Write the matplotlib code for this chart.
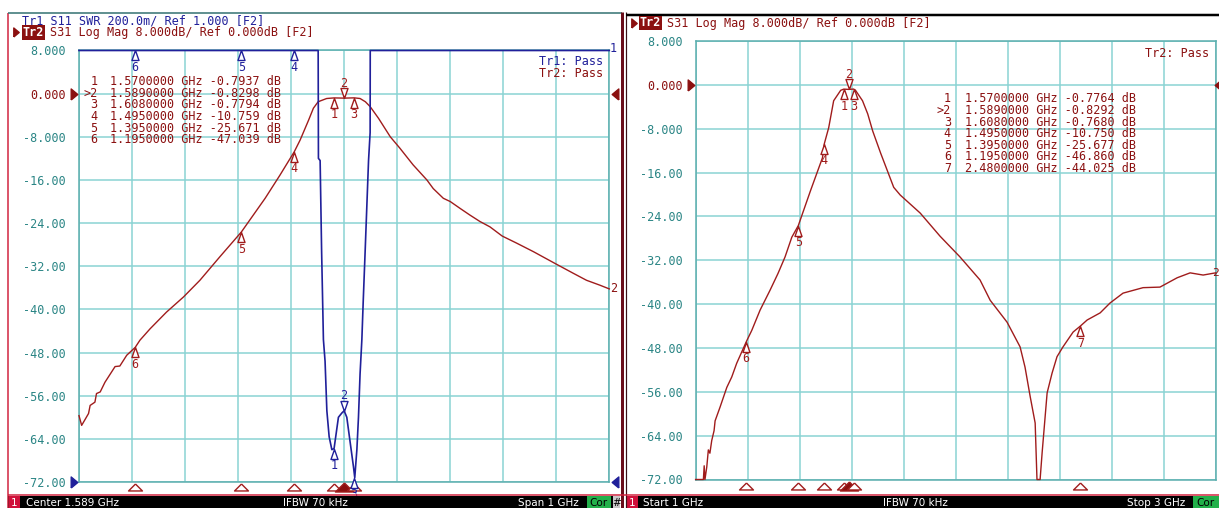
import numpy as np
import matplotlib
matplotlib.use('Agg')
import matplotlib.pyplot as plt
from matplotlib.lines import Line2D
from matplotlib.patches import Rectangle
from matplotlib import transforms

# screen size in pixels (figure is drawn 1:1 at 100 dpi)
W, H = 1219, 508

MONO = 'DejaVu Sans Mono'
BLUE = '#20209a'
RED = '#a01c1c'
DKRED = '#8b1010'
TEAL_TXT = '#2a8585'
GRID = '#8ad3d3'
FRAME = '#5aaeae'

# ---- data ----
ytick_vals = [8, 0, -8, -16, -24, -32, -40, -48, -56, -64, -72]
ytick_txt = ['8.000', '0.000', '-8.000', '-16.00', '-24.00', '-32.00',
             '-40.00', '-48.00', '-56.00', '-64.00', '-72.00']

# left screen: center 1.589 GHz, span 1 GHz
left_start, left_stop = 1.089, 2.089
# Tr2 S31 (dB)
tr2L_f = [1.089, 1.094, 1.107, 1.110, 1.119, 1.122, 1.129, 1.138, 1.157, 1.166,
          1.179, 1.195, 1.204, 1.223, 1.254, 1.286, 1.317, 1.355, 1.395, 1.440,
          1.468, 1.495, 1.506, 1.522, 1.531, 1.540, 1.556, 1.570, 1.589, 1.608,
          1.619, 1.629, 1.638, 1.654, 1.676, 1.694, 1.719, 1.745, 1.757, 1.776,
          1.789, 1.808, 1.826, 1.845, 1.864, 1.887, 1.914, 1.946, 1.987, 2.021,
          2.046, 2.071, 2.089]
tr2L_db = [-59.7, -61.5, -59.3, -57.8, -57.2, -55.6, -55.3, -53.5, -50.6, -50.5,
           -48.5, -47.04, -45.7, -43.6, -40.5, -37.7, -34.6, -30.2, -25.67, -19.4,
           -15.1, -10.76, -8.6, -4.9, -2.7, -1.5, -0.9, -0.79, -0.83, -0.78,
           -0.9, -1.5, -2.4, -4.6, -8.0, -10.1, -13.2, -16.0, -17.6, -19.4,
           -20.0, -21.3, -22.5, -23.7, -24.7, -26.4, -27.7, -29.3, -31.5, -33.3,
           -34.6, -35.5, -36.2]
# Tr1 S11 (SWR), saturated at top of scale outside the passband
tr1_f = [1.089, 1.5400, 1.5405, 1.5437, 1.5465, 1.5499, 1.553, 1.5564, 1.5607,
         1.5658, 1.570, 1.5782, 1.5847, 1.589, 1.594, 1.600, 1.6066, 1.609,
         1.613, 1.616, 1.619, 1.6224, 1.625, 1.6286, 1.635, 1.638, 1.6382, 2.089]
tr1_swr = [3.0, 3.0, 2.50, 2.49, 2.07, 1.66, 1.56, 1.33, 1.21,
           1.15, 1.155, 1.30, 1.32, 1.33, 1.30, 1.19, 1.07, 1.02,
           1.15, 1.30, 1.50, 1.66, 1.84, 2.07, 2.49, 2.62, 3.0, 3.0]

mkL_id = ['1', '2', '3', '4', '5', '6']
mkL_freq = [1.570, 1.589, 1.608, 1.495, 1.395, 1.195]
mkL_db = [-0.7937, -0.8298, -0.7794, -10.759, -25.671, -47.039]
mkL_swr = [1.155, 1.33, 1.02, 3.0, 3.0, 3.0]

# right screen: start 1 GHz, stop 3 GHz
right_start, right_stop = 1.0, 3.0
tr2R_f = [1.000, 1.030, 1.033, 1.036, 1.043, 1.049, 1.055, 1.062, 1.071, 1.075,
          1.094, 1.107, 1.120, 1.139, 1.158, 1.195, 1.216, 1.248, 1.286, 1.317,
          1.344, 1.370, 1.395, 1.442, 1.488, 1.495, 1.512, 1.531, 1.558, 1.570,
          1.589, 1.608, 1.615, 1.642, 1.662, 1.681, 1.712, 1.762, 1.787, 1.864,
          1.940, 2.017, 2.094, 2.133, 2.198, 2.248, 2.267, 2.287, 2.306, 2.313,
          2.325, 2.333, 2.352, 2.371, 2.390, 2.413, 2.452, 2.480, 2.506, 2.556,
          2.594, 2.644, 2.721, 2.786, 2.852, 2.902, 2.952, 3.000]
tr2R_db = [-72, -72, -69.5, -72, -69.7, -66.6, -67.2, -64.9, -63.1, -61.3,
           -58.8, -57.0, -55.2, -53.3, -50.8, -46.86, -44.8, -41.1, -37.5, -34.4,
           -31.4, -27.8, -25.68, -19.3, -13.3, -10.75, -7.8, -2.9, -1.0, -0.78,
           -0.83, -0.77, -1.0, -2.9, -5.3, -8.4, -12.5, -18.7, -20.1, -23.4,
           -27.6, -31.4, -35.6, -39.3, -43.3, -47.8, -51.5, -56.9, -61.7, -72,
           -72, -67.0, -56.2, -52.6, -49.6, -47.8, -45.1, -44.0, -42.9, -41.6,
           -39.8, -38.0, -37.0, -36.9, -35.2, -34.3, -34.7, -34.3]

mkR_id = ['1', '2', '3', '4', '5', '6', '7']
mkR_freq = [1.570, 1.589, 1.608, 1.495, 1.395, 1.195, 2.480]
mkR_db = [-0.7764, -0.8292, -0.7680, -10.750, -25.677, -46.860, -44.025]
active_id = '2'

# marker glyphs: apex sits on the data point
TRI_UP = [(0, 0), (-0.35, -1), (0.35, -1), (0, 0)]
TRI_DN = [(0, 0), (-0.35, 1), (0.35, 1), (0, 0)]
STIM = [(0, 0.5), (-1, -0.5), (1, -0.5), (0, 0.5)]
ARR_R = [(-0.6, -1), (0.6, 0), (-0.6, 1), (-0.6, -1)]
ARR_L = [(0.6, -1), (-0.6, 0), (0.6, 1), (0.6, -1)]


def fx(x):
    return x / W


def fy(y):
    return 1 - y / H


fig = plt.figure(figsize=(W / 100, H / 100), dpi=100)
fig.patch.set_facecolor('white')


def ftext(x, y, s, **kw):
    kw.setdefault('family', MONO)
    kw.setdefault('fontsize', 8.5)
    kw.setdefault('va', 'center')
    fig.text(fx(x), fy(y), s, **kw)


def fig_line(xs, ys, color, lw_px):
    fig.add_artist(Line2D([fx(v) for v in xs], [fy(v) for v in ys], color=color,
                          lw=lw_px * 0.72, transform=fig.transFigure,
                          solid_capstyle='butt'))


def fig_rect(x0, y0, x1, y1, color):
    fig.add_artist(Rectangle((fx(x0), fy(y1)), (x1 - x0) / W, (y1 - y0) / H,
                             transform=fig.transFigure, facecolor=color,
                             edgecolor='none'))


def fig_mark(x, y, verts, ms_px, color):
    fig.add_artist(Line2D([fx(x)], [fy(y)], marker=verts, ms=ms_px * 0.72,
                          color=color, mec=color, mfc=color,
                          transform=fig.transFigure, ls='none'))


def style_axes(ax, xgrid):
    ax.set_facecolor('white')
    ax.set_yticks(ytick_vals)
    ax.set_yticklabels(ytick_txt, fontsize=8.5, family=MONO, color=TEAL_TXT)
    ax.set_xticks(xgrid)
    ax.set_xticklabels([])
    ax.tick_params(length=0, pad=9.2)
    ax.grid(True, color=GRID, lw=1.1)
    for sp in ax.spines.values():
        sp.set_color(FRAME)
        sp.set_linewidth(1.1)
    ax.get_yticklabels()[1].set_color(DKRED)


def draw_marker(ax, f, v, label, color):
    active = label == active_id
    ax.plot([f], [v], marker=TRI_DN if active else TRI_UP, ms=14.4, mfc='white',
            mec=color, mew=1.0, ls='none', clip_on=False, zorder=6)
    dy = 15 if active else -17
    ax.annotate(label, (f, v), xytext=(0, dy * 0.72), textcoords='offset points',
                ha='center', va='center', color=color, fontsize=8.5, family=MONO,
                annotation_clip=False, zorder=6)


def draw_stim(ax, freqs, ids, y_px):
    tr = transforms.blended_transform_factory(ax.transData, fig.transFigure)
    for f, lab in zip(freqs, ids):
        filled = lab == active_id
        ax.plot([f], [fy(y_px)], transform=tr, marker=STIM, ms=(13 if filled else 10),
                mfc=DKRED if filled else 'white', mec=RED, mew=1.0, ls='none',
                clip_on=False, zorder=7)


def fmt_val(v):
    return f"{v:.4f}" if abs(v) < 10 else f"{v:.3f}"


# ---------------- left screen ----------------
axL = fig.add_axes([fx(79), fy(482), (609.3 - 79) / W, (482 - 50.5) / H])
axL.set_xlim(left_start, left_stop)
axL.set_ylim(-72, 8)
style_axes(axL, np.linspace(left_start, left_stop, 11))
axL.plot(tr2L_f, tr2L_db, color=RED, lw=1.0, clip_on=False, zorder=3)

axLb = axL.twinx()
axLb.set_ylim(1.0, 3.0)
axLb.set_axis_off()
axLb.plot(tr1_f, tr1_swr, color=BLUE, lw=1.2, clip_on=False, zorder=4)

for lab, f, v in zip(mkL_id, mkL_freq, mkL_db):
    draw_marker(axL, f, v, lab, RED)
for lab, f, v in zip(mkL_id, mkL_freq, mkL_swr):
    draw_marker(axLb, f, v, lab, BLUE)
draw_stim(axL, mkL_freq, mkL_id, 487)

# marker table
for i, (lab, f, v) in enumerate(zip(mkL_id, mkL_freq, mkL_db)):
    y = 81.7 + 11.65 * i
    ftext(97.5, y, ('>' if lab == active_id else '') + lab, ha='right', color=DKRED)
    ftext(110, y, f"{f:.7f} GHz {fmt_val(v):>7} dB", ha='left', color=DKRED)

ftext(603, 61.7, 'Tr1: Pass', ha='right', color=BLUE)
ftext(603, 73.3, 'Tr2: Pass', ha='right', color=DKRED)
ftext(610, 48, '1', ha='left', color=BLUE)
ftext(610.5, 289, '2', ha='left', color=DKRED)

# header
ftext(21.7, 21, 'Tr1 S11 SWR 200.0m/ Ref 1.000 [F2]', ha='left', color=BLUE)
fig_mark(16, 32.3, ARR_R, 9, DKRED)
ftext(22.5, 32.3, 'Tr2', ha='left', color='white', fontweight='bold',
      bbox=dict(facecolor=DKRED, edgecolor='none', pad=0.6))
ftext(50, 32.3, 'S31 Log Mag 8.000dB/ Ref 0.000dB [F2]', ha='left', color=DKRED)

# reference pointers
fig_mark(73.5, 93.6, ARR_R, 11, DKRED)
fig_mark(614.5, 93.6, ARR_L, 11, DKRED)
fig_mark(73.5, 482, ARR_R, 11, BLUE)
fig_mark(614.5, 482, ARR_L, 11, BLUE)

# ---------------- right screen ----------------
axR = fig.add_axes([fx(695.6), fy(479.5), (1215.6 - 695.6) / W, (479.5 - 41) / H])
axR.set_xlim(right_start, right_stop)
axR.set_ylim(-72, 8)
style_axes(axR, np.linspace(right_start, right_stop, 11))
axR.plot(tr2R_f, tr2R_db, color=RED, lw=1.0, clip_on=False, zorder=3)
for lab, f, v in zip(mkR_id, mkR_freq, mkR_db):
    draw_marker(axR, f, v, lab, RED)
draw_stim(axR, mkR_freq, mkR_id, 485.5)

for i, (lab, f, v) in enumerate(zip(mkR_id, mkR_freq, mkR_db)):
    y = 99 + 11.55 * i
    ftext(951, y, ('>' if lab == active_id else '') + lab, ha='right', color=DKRED)
    ftext(965, y, f"{f:.7f} GHz {fmt_val(v):>7} dB", ha='left', color=DKRED)

ftext(1209, 53.3, 'Tr2: Pass', ha='right', color=DKRED)
ftext(1219, 273, '2', ha='right', color=DKRED, fontsize=8)

fig_mark(634, 23, ARR_R, 9, DKRED)
ftext(640, 23, 'Tr2', ha='left', color='white', fontweight='bold',
      bbox=dict(facecolor=DKRED, edgecolor='none', pad=0.6))
ftext(667, 23, 'S31 Log Mag 8.000dB/ Ref 0.000dB [F2]', ha='left', color=DKRED)

fig_mark(690.5, 85, ARR_R, 11, DKRED)
fig_mark(1218, 85, ARR_L, 11, DKRED)

# ---------------- window frames ----------------
fig_line([7.5, 7.5], [12.7, 508], '#d0203c', 1.5)
fig_line([7.5, 622], [12.7, 12.7], '#2f6f6f', 1.5)
fig_line([621.5, 621.5], [12, 508], '#6a0d1a', 3)
fig_line([625.5, 625.5], [12, 508], '#3a1015', 1.2)
fig_line([626, 1219], [14.5, 14.5], 'black', 2.5)
fig_line([7.5, 1219], [494.5, 494.5], '#d0203c', 1.5)

# status bars
fig_rect(8, 495.5, 620, 508, 'black')
fig_rect(627, 495.5, 1219, 508, 'black')
SANS = 'DejaVu Sans'
for x0 in (8.7, 627):
    fig_rect(x0, 496, x0 + 11, 508, '#d0103a')
    ftext(x0 + 5.5, 503, '1', ha='center', color='white', family=SANS, fontsize=7.5)
ftext(25.7, 503, 'Center 1.589 GHz', ha='left', color='white', family=SANS, fontsize=7.5)
ftext(283, 503, 'IFBW 70 kHz', ha='left', color='white', family=SANS, fontsize=7.5)
ftext(579, 503, 'Span 1 GHz', ha='right', color='white', family=SANS, fontsize=7.5)
fig_rect(587, 496, 610.5, 508, '#22b04a')
ftext(598.7, 503, 'Cor', ha='center', color='black', family=SANS, fontsize=7.5)
fig_rect(612.5, 496, 620, 508, '#c8c8c8')
ftext(616.2, 503, '#', ha='center', color='black', family=SANS, fontsize=7.5)

ftext(643, 503, 'Start 1 GHz', ha='left', color='white', family=SANS, fontsize=7.5)
ftext(882.6, 503, 'IFBW 70 kHz', ha='left', color='white', family=SANS, fontsize=7.5)
ftext(1185, 503, 'Stop 3 GHz', ha='right', color='white', family=SANS, fontsize=7.5)
fig_rect(1192.5, 496, 1219, 508, '#22b04a')
ftext(1205.7, 503, 'Cor', ha='center', color='black', family=SANS, fontsize=7.5)

fig.savefig('out.png', dpi=100, facecolor='white')
